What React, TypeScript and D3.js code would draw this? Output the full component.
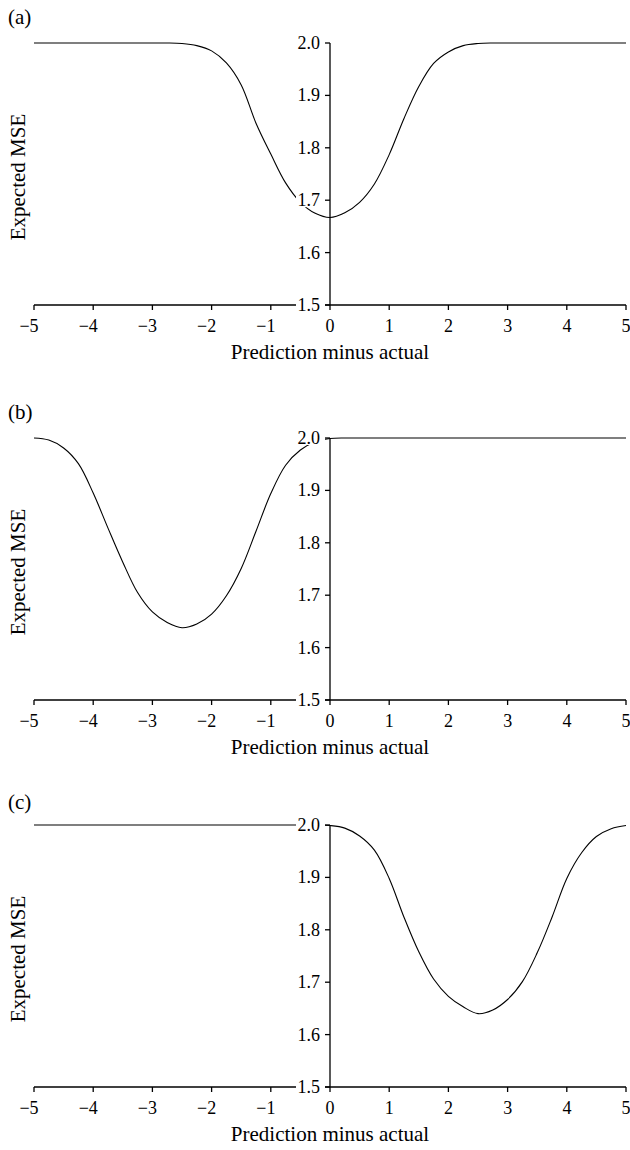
import React from "react";
import * as d3 from "d3";

// prediction minus actual (x positions of the sampled curve points)
const predictionMinusActual = [
  -5, -4.75, -4.5, -4.25, -4, -3.75, -3.5, -3.25, -3, -2.75, -2.5, -2.25, -2,
  -1.75, -1.5, -1.25, -1, -0.75, -0.5, -0.25, 0, 0.25, 0.5, 0.75, 1, 1.25, 1.5,
  1.75, 2, 2.25, 2.5, 2.75, 3, 3.25, 3.5, 3.75, 4, 4.25, 4.5, 4.75, 5,
];

// expected MSE
const mseA = [
  2.0, 2.0, 2.0, 2.0, 2.0, 2.0, 2.0, 2.0, 2.0, 2.0, 1.999, 1.995, 1.985, 1.962,
  1.92, 1.847, 1.788, 1.733, 1.696, 1.675, 1.667, 1.676, 1.696, 1.731, 1.787,
  1.856, 1.917, 1.961, 1.983, 1.995, 1.999, 2.0, 2.0, 2.0, 2.0, 2.0, 2.0, 2.0,
  2.0, 2.0, 2.0,
];
const mseB = [
  2.0, 1.996, 1.981, 1.951, 1.895, 1.828, 1.763, 1.705, 1.668, 1.648, 1.638,
  1.645, 1.664, 1.699, 1.751, 1.822, 1.894, 1.948, 1.977, 1.993, 1.999, 2.0,
  2.0, 2.0, 2.0, 2.0, 2.0, 2.0, 2.0, 2.0, 2.0, 2.0, 2.0, 2.0, 2.0, 2.0, 2.0,
  2.0, 2.0, 2.0, 2.0,
];
const mseC = [
  2.0, 2.0, 2.0, 2.0, 2.0, 2.0, 2.0, 2.0, 2.0, 2.0, 2.0, 2.0, 2.0, 2.0, 2.0,
  2.0, 2.0, 2.0, 2.0, 2.0, 1.999, 1.994, 1.979, 1.952, 1.898, 1.824, 1.758,
  1.706, 1.673, 1.653, 1.64, 1.647, 1.667, 1.701, 1.756, 1.824, 1.898, 1.947,
  1.978, 1.993, 1.999,
];

const panelLabels = ["(a)", "(b)", "(c)"];
const xTicks = [-5, -4, -3, -2, -1, 0, 1, 2, 3, 4, 5];
const yTicks = [1.5, 1.6, 1.7, 1.8, 1.9, 2.0];

const FONT = '"Liberation Serif", serif';

const fmtX = (v: number) => (v < 0 ? "\u2212" + Math.abs(v) : String(v));

const Panel = (props: any) => {
  const { top, values, label, xScale, height, labelDy } = props;
  const yScale = d3.scaleLinear().domain([1.5, 2.0]).range([top + height, top]);
  const bottom = top + height;
  const x0 = xScale(0);
  const line = d3
    .line<number>()
    .x((_, i) => xScale(predictionMinusActual[i]))
    .y((d) => yScale(d))
    .curve(d3.curveCatmullRom.alpha(0.5));

  return (
    <g>
      <text x={8} y={top - labelDy} fontSize={21}>
        {label}
      </text>
      <path d={line(values) || ""} fill="none" stroke="#000" strokeWidth={1.1} />
      {/* x axis */}
      <line x1={xScale(-5)} y1={bottom} x2={xScale(5)} y2={bottom} stroke="#000" strokeWidth={1.3} />
      {xTicks.map((t, i) => (
        <g key={i} transform={`translate(${xScale(t)},${bottom})`}>
          <line x1={0} y1={0} x2={0} y2={5} stroke="#000" strokeWidth={1.3} />
          <text x={4.6} y={27} textAnchor="end" fontSize={18}>
            {fmtX(t)}
          </text>
        </g>
      ))}
      <text x={x0} y={bottom + 54} textAnchor="middle" fontSize={21}>
        Prediction minus actual
      </text>
      {/* y axis */}
      <line x1={x0} y1={top} x2={x0} y2={bottom} stroke="#000" strokeWidth={1.3} />
      {yTicks.map((t, i) => (
        <g key={i} transform={`translate(${x0},${yScale(t)})`}>
          <rect x={-34} y={-8} width={29} height={15} fill="#fff" />
          <line x1={-5} y1={0} x2={0} y2={0} stroke="#000" strokeWidth={1.3} />
          <text x={-10} y={6} textAnchor="end" fontSize={18}>
            {t.toFixed(1)}
          </text>
        </g>
      ))}
      <text
        transform={`translate(25,${(top + bottom) / 2 + 3}) rotate(-90)`}
        textAnchor="middle"
        fontSize={21}
      >
        Expected MSE
      </text>
    </g>
  );
};

export default function App() {
  const width = 630;
  const height = 1150;
  const plotHeight = 262;
  const tops = [43, 438, 825];
  const labelDys = [19, 19, 16];
  const series = [mseA, mseB, mseC];

  const xScale = d3.scaleLinear().domain([-5, 5]).range([34, 626]);

  return (
    <svg
      width={width}
      height={height}
      fontFamily={FONT}
      style={{ position: "absolute", left: 0, top: 0, background: "#fff", fontFamily: FONT }}
    >
      {series.map((values, i) => (
        <Panel
          key={i}
          top={tops[i]}
          height={plotHeight}
          values={values}
          label={panelLabels[i]}
          labelDy={labelDys[i]}
          xScale={xScale}
        />
      ))}
    </svg>
  );
}
